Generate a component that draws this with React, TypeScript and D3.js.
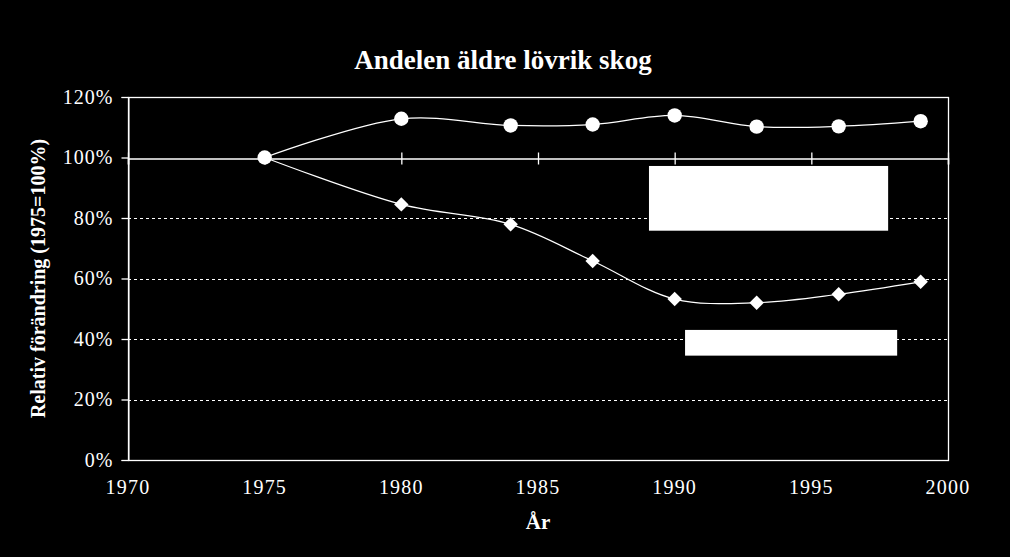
import React, { useRef, useEffect } from 'react';
import * as d3 from 'd3';

// data
const years = [1975, 1980, 1984, 1987, 1990, 1993, 1996, 1999];
const seriesCircle = [100, 112.8, 110.6, 110.9, 113.9, 110.2, 110.3, 112];
const seriesDiamond = [100, 84.5, 77.9, 65.8, 53.2, 52.0, 54.8, 58.9];
const xTicks = [1970, 1975, 1980, 1985, 1990, 1995, 2000];
const yTicks = [0, 20, 40, 60, 80, 100, 120];
// blanked label boxes, in data units [x0, x1, yTop, yBottom]
const blankBoxes = [
  [1989.06, 1997.81, 97.2, 75.8],
  [1990.38, 1998.14, 43.0, 34.5],
];

const W = 1010;
const H = 557;
const FONT = '"Liberation Serif", "Times New Roman", serif';

export default function App() {
  const svgRef = useRef<SVGSVGElement | null>(null);

  useEffect(() => {
    if (!svgRef.current) return;
    const svg = d3.select(svgRef.current);
    svg.selectAll('*').remove();

    const margin = { top: 97, right: 62, bottom: 97, left: 128 };

    const x = d3.scaleLinear().domain([1970, 2000]).range([margin.left, W - margin.right]);
    const y = d3.scaleLinear().domain([0, 120]).range([H - margin.bottom, margin.top]);

    svg.append('rect').attr('width', W).attr('height', H).attr('fill', '#000');

    // dashed gridlines
    svg
      .append('g')
      .selectAll('line')
      .data(yTicks.filter(d => d > 0 && d < 100))
      .join('line')
      .attr('x1', x(1970))
      .attr('x2', x(2000))
      .attr('y1', d => Math.round(y(d)) + 0.5)
      .attr('y2', d => Math.round(y(d)) + 0.5)
      .attr('stroke', '#fff')
      .attr('stroke-width', 1)
      .attr('stroke-dasharray', '3,3');

    // plot border
    svg
      .append('rect')
      .attr('x', x(1970) + 0.5)
      .attr('y', y(120) + 0.5)
      .attr('width', x(2000) - x(1970))
      .attr('height', y(0) - y(120))
      .attr('fill', 'none')
      .attr('stroke', '#fff')
      .attr('stroke-width', 1.3);

    // y axis
    const yAxis = svg
      .append('g')
      .attr('transform', `translate(${x(1970) + 0.5},0)`)
      .call(
        d3
          .axisLeft(y)
          .tickValues(yTicks)
          .tickSize(7)
          .tickPadding(8)
          .tickFormat(d => `${d}%`)
      );
    yAxis.select('.domain').attr('stroke', '#fff');
    yAxis.selectAll('line').attr('stroke', '#fff').attr('stroke-width', 1.3);
    yAxis
      .selectAll('text')
      .attr('fill', '#fff')
      .attr('font-family', FONT)
      .attr('font-size', 20)
      .attr('letter-spacing', 1)
      .attr('dy', '0.32em');

    // x axis crossing at 100%
    const xAxis = svg
      .append('g')
      .attr('transform', `translate(0,${Math.round(y(100)) + 0.5})`)
      .call(d3.axisBottom(x).tickValues(xTicks).tickSize(6).tickFormat(() => ''));
    xAxis.select('.domain').attr('stroke', '#fff').attr('stroke-width', 1.5);
    xAxis
      .selectAll('line')
      .attr('stroke', '#fff')
      .attr('stroke-width', 1.3)
      .attr('y1', -6)
      .attr('y2', 6);

    // x tick labels at the bottom
    svg
      .append('g')
      .selectAll('text')
      .data(xTicks)
      .join('text')
      .attr('x', d => x(d))
      .attr('y', y(0) + 34)
      .attr('text-anchor', 'middle')
      .attr('fill', '#fff')
      .attr('font-family', FONT)
      .attr('font-size', 20)
      .attr('letter-spacing', 1.2)
      .text(d => d);

    const line = d3
      .line<number>()
      .x((_, i) => x(years[i]))
      .y(d => y(d))
      .curve(d3.curveCatmullRom.alpha(0.5));

    [seriesCircle, seriesDiamond].forEach(series => {
      svg
        .append('path')
        .datum(series)
        .attr('d', line)
        .attr('fill', 'none')
        .attr('stroke', '#fff')
        .attr('stroke-width', 1.2);
    });

    svg
      .append('g')
      .selectAll('circle')
      .data(seriesCircle)
      .join('circle')
      .attr('cx', (_, i) => x(years[i]))
      .attr('cy', d => y(d))
      .attr('r', 7.2)
      .attr('fill', '#fff');

    const diamond = d3.symbol(d3.symbolSquare, 104);
    svg
      .append('g')
      .selectAll('path')
      .data(seriesDiamond.slice(1))
      .join('path')
      .attr('d', diamond)
      .attr('transform', (d, i) => `translate(${x(years[i + 1])},${y(d)}) rotate(45)`)
      .attr('fill', '#fff');

    // white boxes
    svg
      .append('g')
      .selectAll('rect')
      .data(blankBoxes)
      .join('rect')
      .attr('x', d => x(d[0]))
      .attr('y', d => y(d[2]))
      .attr('width', d => x(d[1]) - x(d[0]))
      .attr('height', d => y(d[3]) - y(d[2]))
      .attr('fill', '#fff');

    // title and axis titles
    svg
      .append('text')
      .attr('x', 503)
      .attr('y', 69)
      .attr('text-anchor', 'middle')
      .attr('fill', '#fff')
      .attr('font-family', FONT)
      .attr('font-weight', 'bold')
      .attr('font-size', 27)
      .text('Andelen äldre lövrik skog');

    svg
      .append('text')
      .attr('x', (x(1970) + x(2000)) / 2)
      .attr('y', 529)
      .attr('text-anchor', 'middle')
      .attr('fill', '#fff')
      .attr('font-family', FONT)
      .attr('font-weight', 'bold')
      .attr('font-size', 21)
      .text('År');

    svg
      .append('text')
      .attr('transform', `translate(45,${(y(0) + y(120)) / 2}) rotate(-90)`)
      .attr('text-anchor', 'middle')
      .attr('fill', '#fff')
      .attr('font-family', FONT)
      .attr('font-weight', 'bold')
      .attr('font-size', 20)
      .text('Relativ förändring (1975=100%)');
  }, []);

  return (
    <svg
      ref={svgRef}
      width={W}
      height={H}
      style={{ position: 'absolute', left: 0, top: 0, display: 'block' }}
    ></svg>
  );
}
